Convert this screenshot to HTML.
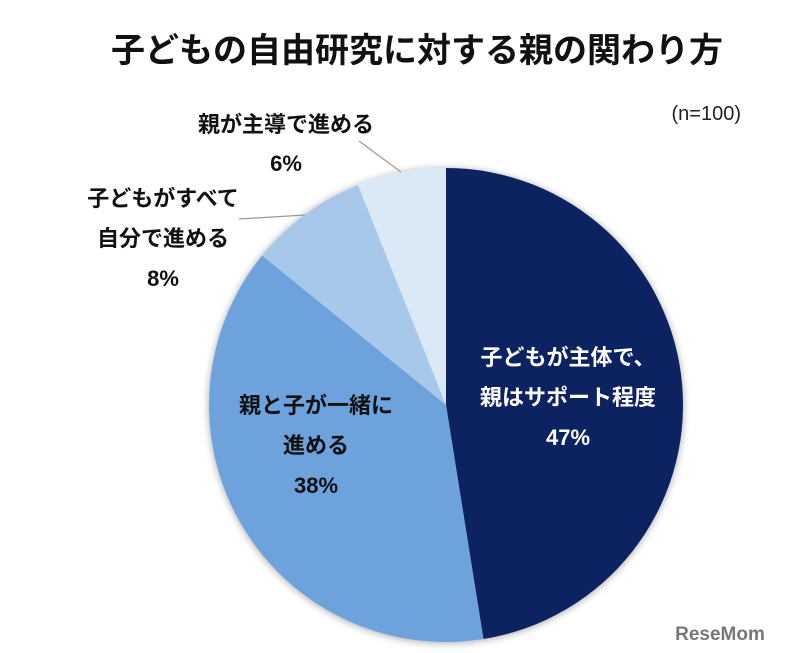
<!DOCTYPE html>
<html><head><meta charset="utf-8"><style>
body{margin:0;width:789px;height:653px;background:#fff;overflow:hidden;font-family:"Liberation Sans","Noto Sans CJK JP",sans-serif}
svg{display:block}
text{font-family:"Liberation Sans","Noto Sans CJK JP",sans-serif}
</style></head><body>
<svg id="chart" width="789" height="653" viewBox="0 0 789 653">
<defs><filter id="sh" x="-20%" y="-20%" width="140%" height="140%"><feGaussianBlur in="SourceAlpha" stdDeviation="4"/><feOffset dx="0" dy="1"/><feComponentTransfer><feFuncA type="linear" slope="0.35"/></feComponentTransfer><feMerge><feMergeNode/><feMergeNode in="SourceGraphic"/></feMerge></filter></defs>
<text x="417" y="62" text-anchor="middle" font-size="34" font-weight="bold" fill="#111">子どもの自由研究に対する親の関わり方</text>
<text x="741" y="120" text-anchor="end" font-size="20" fill="#222">(n=100)</text>
<g id="slices" filter="url(#sh)"></g>
<line x1="359" y1="141" x2="401" y2="172" stroke="#999" stroke-width="1.2"/>
<line x1="239" y1="219" x2="305" y2="215" stroke="#999" stroke-width="1.2"/>
<g font-size="22" font-weight="bold" text-anchor="middle">
<text x="286" y="132" fill="#111">親が主導で進める</text>
<text x="286" y="171" fill="#111">6%</text>
<text x="163" y="206" fill="#111">子どもがすべて</text>
<text x="163" y="246" fill="#111">自分で進める</text>
<text x="163" y="286" fill="#111">8%</text>
<text x="316" y="413" fill="#111">親と子が一緒に</text>
<text x="316" y="453" fill="#111">進める</text>
<text x="316" y="493" fill="#111">38%</text>
<text x="568" y="365" fill="#fff">子どもが主体で、</text>
<text x="568" y="405" fill="#fff">親はサポート程度</text>
<text x="568" y="445" fill="#fff">47%</text>
</g>
<text x="720" y="640" text-anchor="middle" font-size="19" font-weight="bold" fill="#777">ReseMom</text>
</svg>
<script>
const categories=["子どもが主体で、親はサポート程度","親と子が一緒に進める","子どもがすべて自分で進める","親が主導で進める"];
const values=[47,38,8,6];
const colors=["#0c2460","#6ea2dd","#a7c8ea","#dbe8f6"];
const cx=446,cy=405,r=237;
const g=document.getElementById('slices');
const total=values.reduce((a,b)=>a+b,0);
let a0=0;
values.forEach((v,i)=>{
  const a1=a0+v/total*2*Math.PI;
  const x0=cx+r*Math.sin(a0),y0=cy-r*Math.cos(a0),x1=cx+r*Math.sin(a1),y1=cy-r*Math.cos(a1);
  const p=document.createElementNS('http://www.w3.org/2000/svg','path');
  p.setAttribute('d',`M${cx},${cy}L${x0},${y0}A${r},${r} 0 ${a1-a0>Math.PI?1:0} 1 ${x1},${y1}Z`);
  p.setAttribute('fill',colors[i]);
  
  
  g.appendChild(p);
  a0=a1;
});
</script>
</body></html>
